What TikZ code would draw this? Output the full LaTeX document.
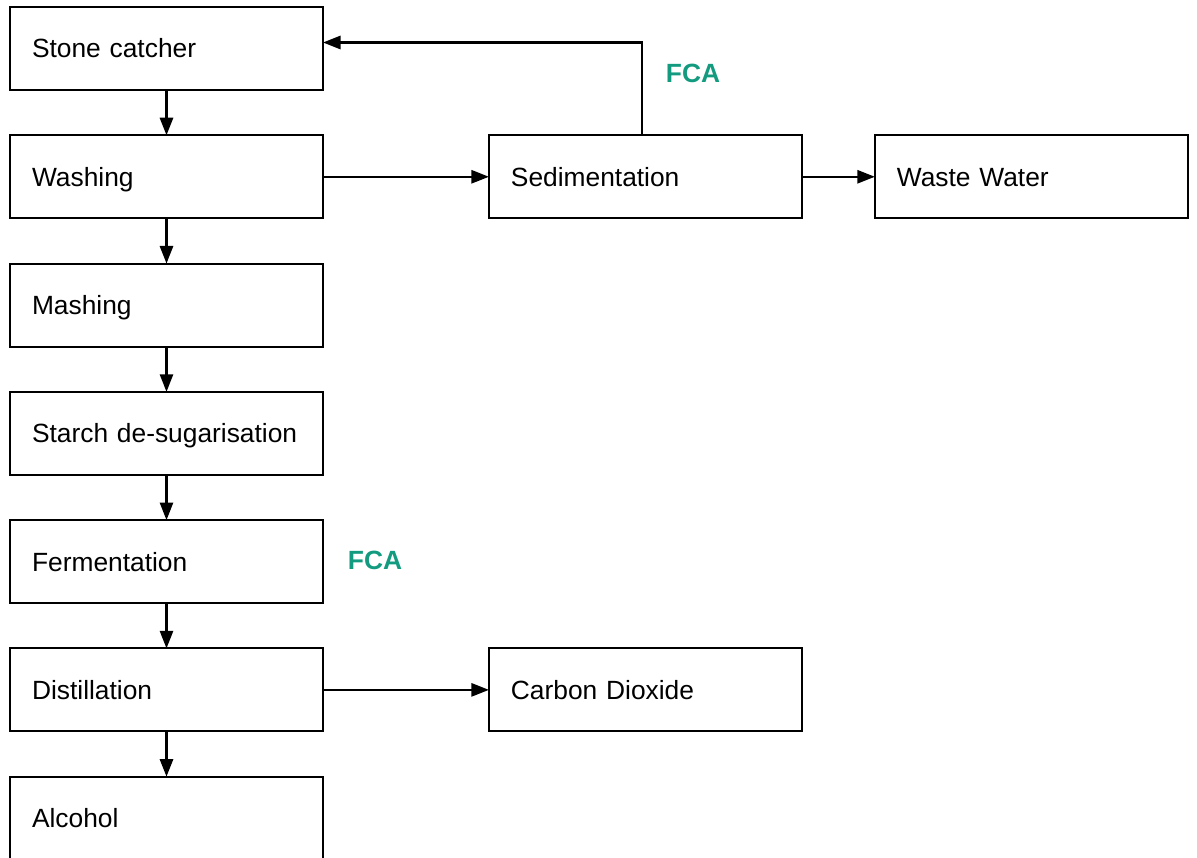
\documentclass[tikz,border=0pt]{standalone}
\usepackage{fontspec}
\setmainfont{Liberation Sans}
\usetikzlibrary{positioning,arrows.meta}
\definecolor{fcagreen}{HTML}{129B7F}

\begin{document}
\begin{tikzpicture}[x=0.02cm, y=-0.02cm,
  stepbox/.style={draw, line width=1.15pt, minimum height=1.66cm, text width=5.38cm,
    text height=10.8pt, text depth=0pt,
    inner xsep=0.44cm, inner ysep=0pt, outer sep=0pt, align=left,
    font=\fontsize{15}{18}\selectfont},
  flow/.style={-{Triangle[length=10pt,width=7.5pt]}, line width=1.3pt},
  fcalabel/.style={font=\fontsize{15}{18}\selectfont\bfseries\color{fcagreen}},
]
% frame in pixel units: 1197 x 858
\useasboundingbox (0,0) rectangle (1197,858);

% main line
\node[stepbox] (stone) at (166.5,48.5) {Stone catcher};
\node[stepbox, below=0.906cm of stone] (wash) {Washing};
\node[stepbox, below=0.906cm of wash] (mash) {Mashing};
\node[stepbox, below=0.906cm of mash] (starch) {Starch de-sugarisation};
\node[stepbox, below=0.906cm of starch] (ferm) {Fermentation};
\node[stepbox, below=0.906cm of ferm] (dist) {Distillation};
\node[stepbox, below=0.906cm of dist] (alc) {Alcohol};

% side streams
\node[stepbox, right=3.32cm of wash] (sed) {Sedimentation};
\node[stepbox, right=1.46cm of sed] (waste) {Waste Water};
\node[stepbox, right=3.32cm of dist] (co2) {Carbon Dioxide};

\node[fcalabel] (fcatop) at (693,73) {FCA};
\node[fcalabel] (fcaferm) at (375,560) {FCA};

\foreach \a/\b in {stone/wash, wash/mash, mash/starch, starch/ferm, ferm/dist, dist/alc}
  \draw[flow] (\a) -- (\b);
\draw[flow] (wash) -- (sed);
\draw[flow] (sed) -- (waste);
\draw[flow] (dist) -- (co2);

% return from sedimentation
\coordinate (back) at ([yshift=0.12cm]stone.east);
\draw[flow] ([xshift=-0.07cm]sed.north) |- (back);
\end{tikzpicture}
\end{document}
